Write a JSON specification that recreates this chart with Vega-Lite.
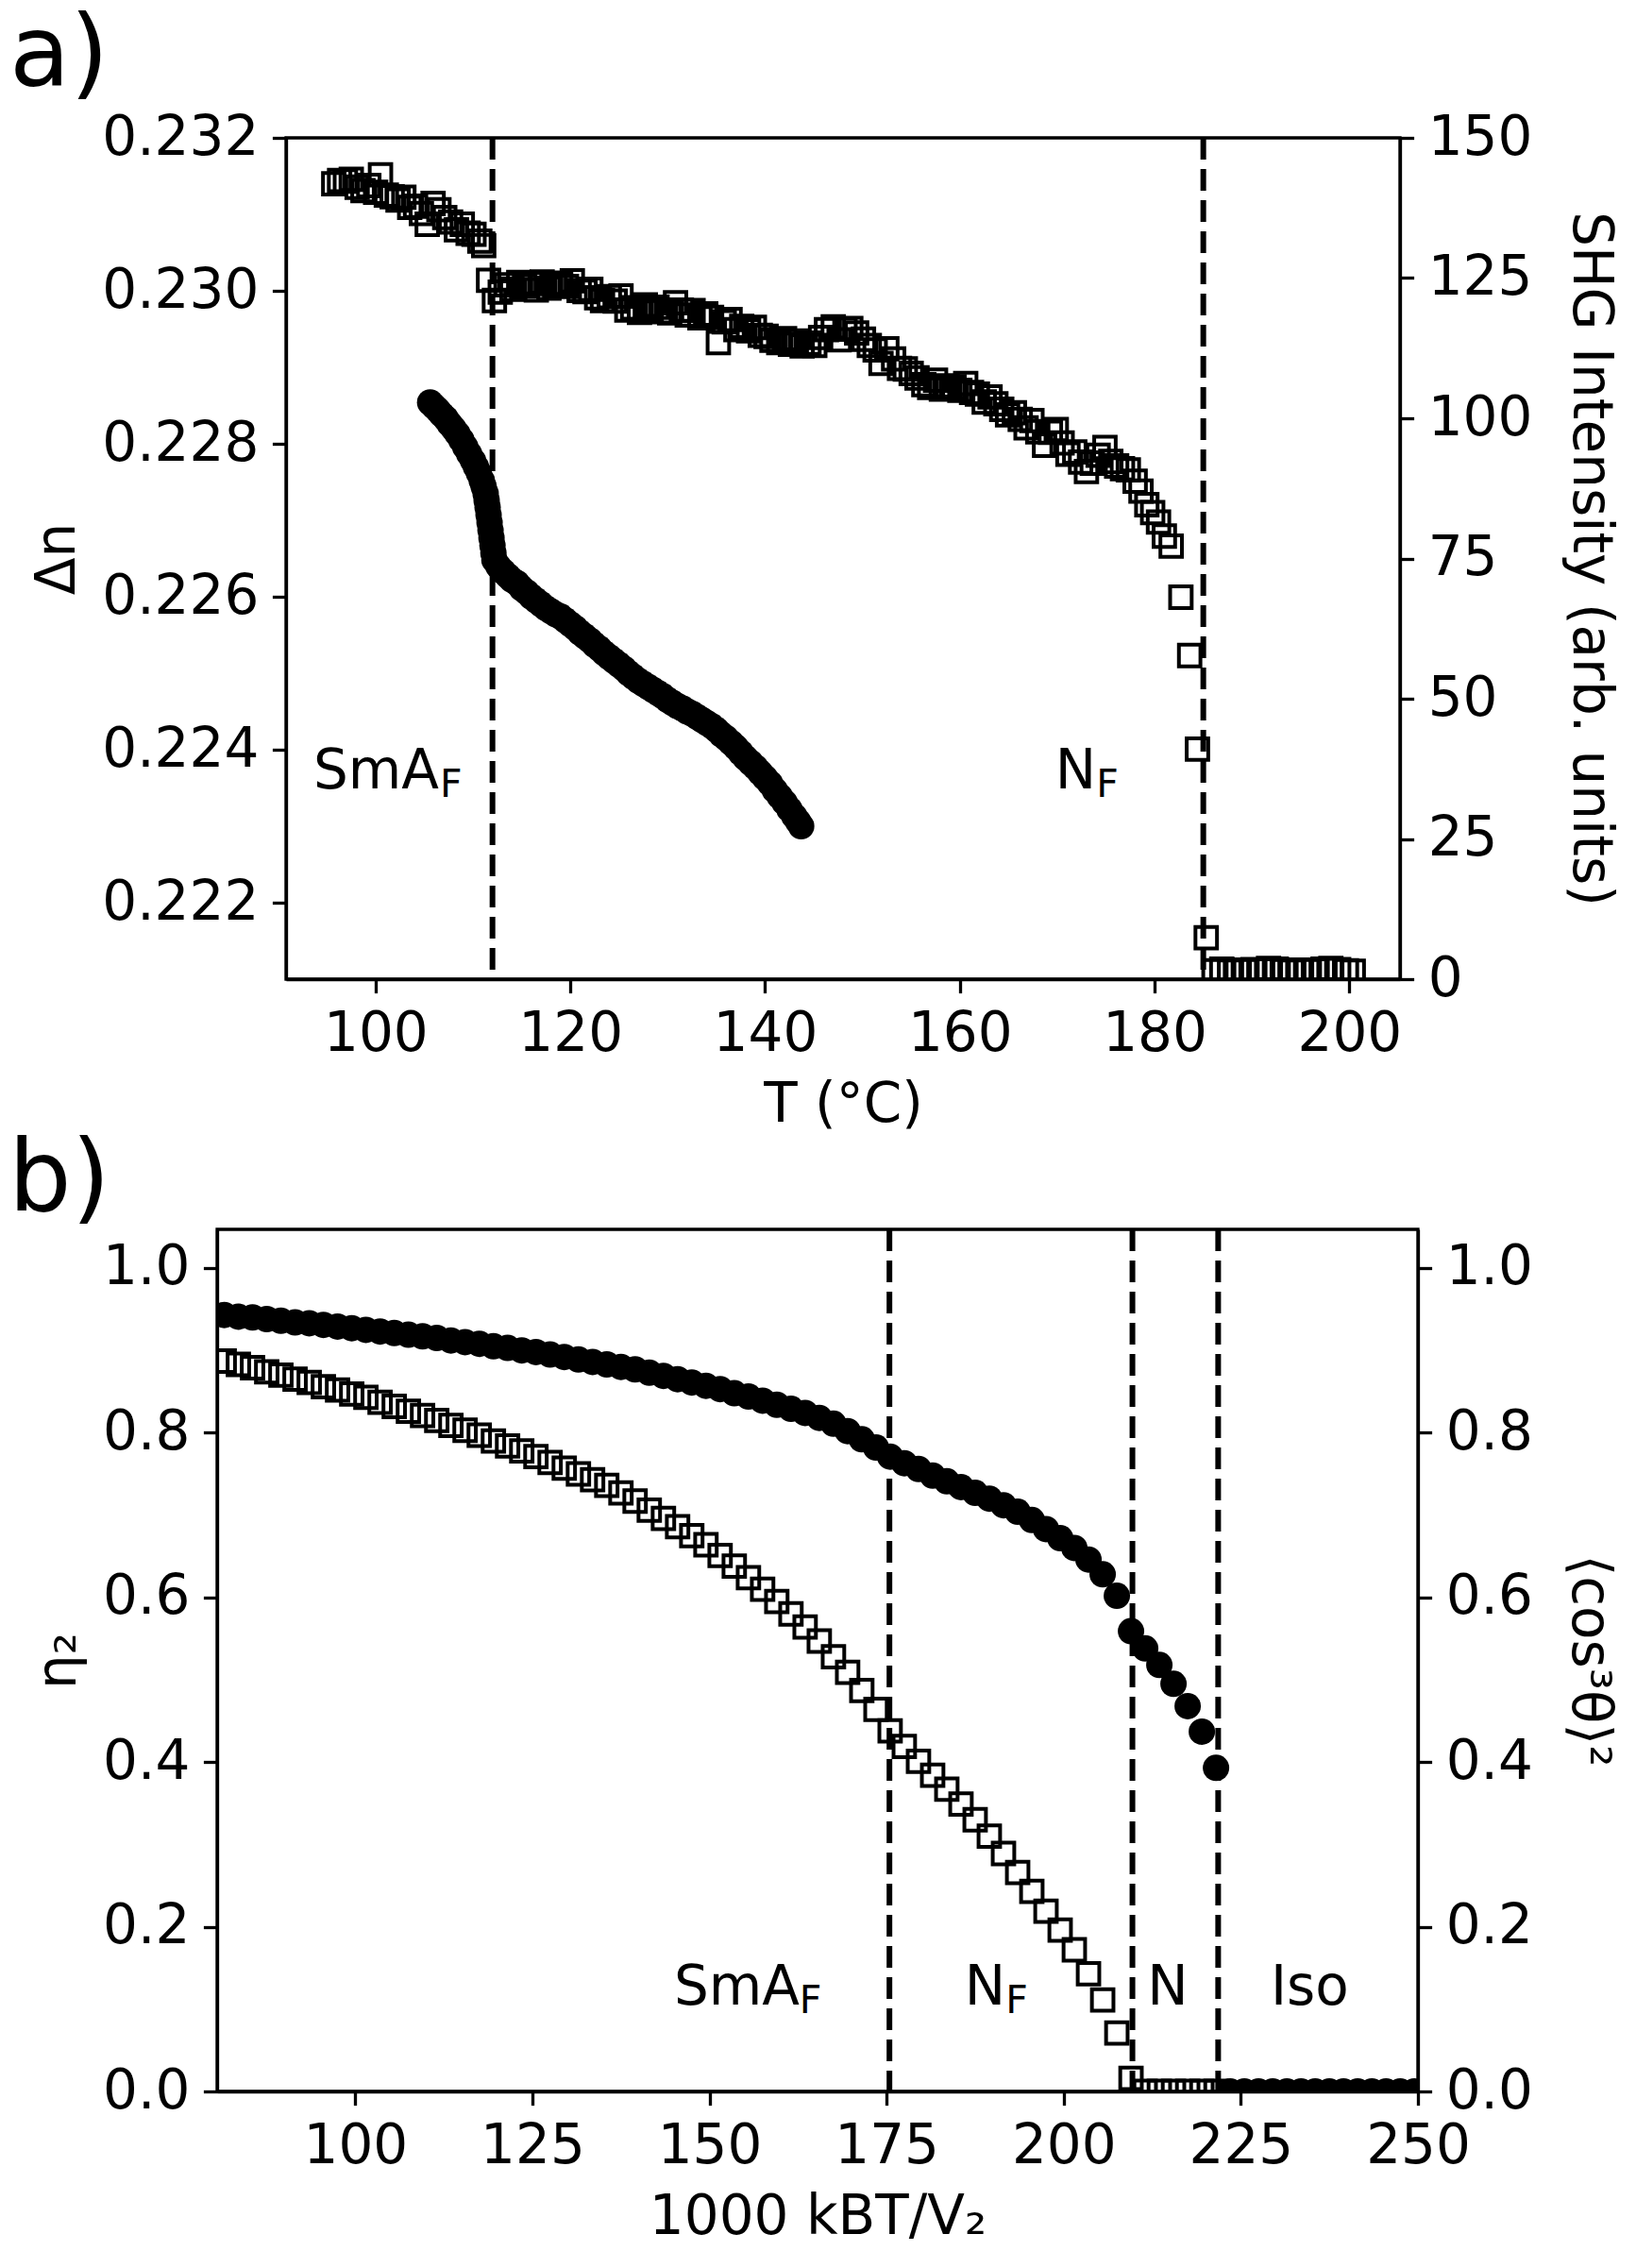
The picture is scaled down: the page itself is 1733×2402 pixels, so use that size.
{
  "$schema": "https://vega.github.io/schema/vega-lite/v6.json",
  "background": "white",
  "padding": {"left": 7, "top": 5, "right": 0, "bottom": 0},
  "spacing": -5,
  "datasets": {
    "shg": [
      {"T": 95.7, "I": 141.8}, {"T": 96.3, "I": 142.4}, {"T": 96.9, "I": 142.3}, {"T": 97.5, "I": 142.6},
      {"T": 98.1, "I": 141.2}, {"T": 98.7, "I": 140.6}, {"T": 99.3, "I": 141.5}, {"T": 100.0, "I": 140.3},
      {"T": 100.5, "I": 143.4}, {"T": 101.1, "I": 139.8}, {"T": 101.7, "I": 139.5}, {"T": 102.3, "I": 138.9},
      {"T": 102.9, "I": 139.4}, {"T": 103.5, "I": 137.6}, {"T": 104.1, "I": 137.8}, {"T": 104.7, "I": 136.5},
      {"T": 105.3, "I": 134.6}, {"T": 105.9, "I": 138.3}, {"T": 106.5, "I": 137.2}, {"T": 107.1, "I": 135.8},
      {"T": 107.7, "I": 135.0}, {"T": 108.3, "I": 133.6}, {"T": 108.9, "I": 134.6}, {"T": 109.5, "I": 133.0},
      {"T": 110.1, "I": 132.8}, {"T": 110.7, "I": 131.6}, {"T": 111.1, "I": 130.8},
      {"T": 111.6, "I": 124.6}, {"T": 112.2, "I": 121.0}, {"T": 112.8, "I": 122.5}, {"T": 113.4, "I": 123.8},
      {"T": 114.0, "I": 123.0}, {"T": 114.7, "I": 124.2}, {"T": 115.3, "I": 123.6}, {"T": 115.9, "I": 124.0},
      {"T": 116.5, "I": 122.9}, {"T": 117.1, "I": 124.3}, {"T": 117.8, "I": 123.2}, {"T": 118.4, "I": 123.7},
      {"T": 119.0, "I": 124.1}, {"T": 119.6, "I": 123.5}, {"T": 120.2, "I": 124.5}, {"T": 120.9, "I": 122.8},
      {"T": 121.5, "I": 122.6}, {"T": 122.1, "I": 123.0}, {"T": 122.7, "I": 121.5}, {"T": 123.3, "I": 121.0},
      {"T": 124.0, "I": 121.7}, {"T": 124.6, "I": 120.9}, {"T": 125.2, "I": 121.8}, {"T": 125.8, "I": 119.3},
      {"T": 126.4, "I": 119.7}, {"T": 127.1, "I": 118.9}, {"T": 127.7, "I": 120.2}, {"T": 128.3, "I": 119.4},
      {"T": 128.9, "I": 119.8}, {"T": 129.5, "I": 119.0}, {"T": 130.2, "I": 118.8}, {"T": 130.8, "I": 120.6},
      {"T": 131.4, "I": 119.3}, {"T": 132.0, "I": 118.4}, {"T": 132.6, "I": 119.2}, {"T": 133.3, "I": 117.9},
      {"T": 133.9, "I": 118.6}, {"T": 134.5, "I": 118.0}, {"T": 135.2, "I": 113.5}, {"T": 135.8, "I": 117.2},
      {"T": 136.4, "I": 117.6}, {"T": 137.0, "I": 115.8}, {"T": 137.6, "I": 116.4}, {"T": 138.3, "I": 115.6},
      {"T": 138.9, "I": 116.2}, {"T": 139.5, "I": 114.8}, {"T": 140.1, "I": 114.6}, {"T": 140.7, "I": 113.9},
      {"T": 141.4, "I": 113.5}, {"T": 142.0, "I": 114.2}, {"T": 142.6, "I": 113.2}, {"T": 143.2, "I": 113.8},
      {"T": 143.8, "I": 112.9}, {"T": 144.5, "I": 113.4}, {"T": 145.1, "I": 113.0}, {"T": 145.7, "I": 114.4},
      {"T": 146.3, "I": 115.8}, {"T": 147.0, "I": 116.3}, {"T": 147.6, "I": 114.0}, {"T": 148.2, "I": 115.9},
      {"T": 148.8, "I": 116.0}, {"T": 149.4, "I": 115.2}, {"T": 150.1, "I": 114.1}, {"T": 150.7, "I": 113.0},
      {"T": 151.3, "I": 112.2}, {"T": 151.9, "I": 109.8}, {"T": 152.5, "I": 112.4}, {"T": 153.2, "I": 110.6},
      {"T": 153.8, "I": 108.9}, {"T": 154.4, "I": 108.8}, {"T": 155.0, "I": 108.0}, {"T": 155.6, "I": 107.2},
      {"T": 156.3, "I": 106.0}, {"T": 156.9, "I": 105.5}, {"T": 157.5, "I": 106.8}, {"T": 158.1, "I": 105.2},
      {"T": 158.7, "I": 105.8}, {"T": 159.4, "I": 105.6}, {"T": 160.0, "I": 105.0}, {"T": 160.6, "I": 106.2},
      {"T": 161.2, "I": 104.6}, {"T": 161.8, "I": 104.3}, {"T": 162.5, "I": 102.9}, {"T": 163.1, "I": 103.8},
      {"T": 163.7, "I": 102.6}, {"T": 164.3, "I": 101.6}, {"T": 164.9, "I": 100.6}, {"T": 165.6, "I": 101.0},
      {"T": 166.2, "I": 99.8}, {"T": 166.8, "I": 98.3}, {"T": 167.4, "I": 99.6}, {"T": 168.0, "I": 97.6},
      {"T": 168.7, "I": 95.2}, {"T": 169.3, "I": 97.5}, {"T": 169.9, "I": 98.0}, {"T": 170.5, "I": 95.6},
      {"T": 171.1, "I": 93.6}, {"T": 171.8, "I": 94.0}, {"T": 172.4, "I": 92.2}, {"T": 173.0, "I": 90.5},
      {"T": 173.6, "I": 92.0}, {"T": 174.2, "I": 93.4}, {"T": 174.9, "I": 94.8}, {"T": 175.5, "I": 92.3},
      {"T": 176.1, "I": 91.5}, {"T": 176.7, "I": 91.0}, {"T": 177.3, "I": 90.8}, {"T": 178.0, "I": 88.8},
      {"T": 178.6, "I": 87.0}, {"T": 179.2, "I": 84.6}, {"T": 179.8, "I": 83.2}, {"T": 180.4, "I": 81.5},
      {"T": 181.0, "I": 79.0}, {"T": 181.7, "I": 77.2}, {"T": 182.7, "I": 68.1}, {"T": 183.6, "I": 57.7},
      {"T": 184.4, "I": 41.0}, {"T": 185.3, "I": 7.4}, {"T": 186.1, "I": 1.5}, {"T": 186.9, "I": 1.8},
      {"T": 187.7, "I": 1.4}, {"T": 188.5, "I": 1.6}, {"T": 189.3, "I": 1.5}, {"T": 190.1, "I": 1.7},
      {"T": 190.9, "I": 1.6}, {"T": 191.7, "I": 1.9}, {"T": 192.5, "I": 1.8}, {"T": 193.3, "I": 1.5},
      {"T": 194.1, "I": 1.4}, {"T": 194.9, "I": 1.6}, {"T": 195.7, "I": 1.5}, {"T": 196.5, "I": 1.6},
      {"T": 197.3, "I": 1.8}, {"T": 198.1, "I": 1.9}, {"T": 198.9, "I": 1.7}, {"T": 199.7, "I": 1.5},
      {"T": 200.4, "I": 1.4}
    ],
    "dn": [
      {"T": 105.6, "dn": 0.22854}, {"T": 106.0, "dn": 0.22849}, {"T": 106.4, "dn": 0.22844}, {"T": 106.8, "dn": 0.22838},
      {"T": 107.2, "dn": 0.22833}, {"T": 107.6, "dn": 0.22826}, {"T": 108.0, "dn": 0.2282}, {"T": 108.4, "dn": 0.22813},
      {"T": 108.8, "dn": 0.22805}, {"T": 109.2, "dn": 0.22796}, {"T": 109.6, "dn": 0.22787}, {"T": 110.0, "dn": 0.22778},
      {"T": 110.3, "dn": 0.2277}, {"T": 110.6, "dn": 0.22762}, {"T": 110.9, "dn": 0.22752}, {"T": 111.1, "dn": 0.22744},
      {"T": 111.3, "dn": 0.22735}, {"T": 111.4, "dn": 0.22726}, {"T": 111.5, "dn": 0.22717}, {"T": 111.6, "dn": 0.22707},
      {"T": 111.7, "dn": 0.22697}, {"T": 111.8, "dn": 0.22687}, {"T": 111.9, "dn": 0.22677}, {"T": 112.0, "dn": 0.22667},
      {"T": 112.1, "dn": 0.22657}, {"T": 112.2, "dn": 0.22648}, {"T": 112.6, "dn": 0.2264}, {"T": 113.1, "dn": 0.22633},
      {"T": 113.6, "dn": 0.22627}, {"T": 114.0, "dn": 0.22622}, {"T": 114.5, "dn": 0.22618}, {"T": 115.0, "dn": 0.22611},
      {"T": 115.5, "dn": 0.22606}, {"T": 116.0, "dn": 0.226}, {"T": 116.5, "dn": 0.22595}, {"T": 117.0, "dn": 0.2259},
      {"T": 117.5, "dn": 0.22585}, {"T": 118.0, "dn": 0.22581}, {"T": 118.5, "dn": 0.22577}, {"T": 119.0, "dn": 0.22574},
      {"T": 119.5, "dn": 0.22569}, {"T": 120.0, "dn": 0.22564}, {"T": 120.5, "dn": 0.22559}, {"T": 121.0, "dn": 0.22553},
      {"T": 121.5, "dn": 0.22548}, {"T": 122.0, "dn": 0.22543}, {"T": 122.5, "dn": 0.22537}, {"T": 123.0, "dn": 0.22532},
      {"T": 123.5, "dn": 0.22526}, {"T": 124.0, "dn": 0.22521}, {"T": 124.5, "dn": 0.22516}, {"T": 125.0, "dn": 0.22511},
      {"T": 125.5, "dn": 0.22506}, {"T": 126.0, "dn": 0.225}, {"T": 126.5, "dn": 0.22495}, {"T": 127.0, "dn": 0.2249},
      {"T": 127.5, "dn": 0.22486}, {"T": 128.0, "dn": 0.22482}, {"T": 128.5, "dn": 0.22478}, {"T": 129.0, "dn": 0.22474},
      {"T": 129.5, "dn": 0.2247}, {"T": 130.0, "dn": 0.22465}, {"T": 130.5, "dn": 0.22461}, {"T": 131.0, "dn": 0.22457},
      {"T": 131.5, "dn": 0.22454}, {"T": 132.0, "dn": 0.2245}, {"T": 132.5, "dn": 0.22447}, {"T": 133.0, "dn": 0.22443},
      {"T": 133.5, "dn": 0.22439}, {"T": 134.0, "dn": 0.22435}, {"T": 134.5, "dn": 0.22431}, {"T": 135.0, "dn": 0.22426},
      {"T": 135.5, "dn": 0.2242}, {"T": 136.0, "dn": 0.22415}, {"T": 136.5, "dn": 0.22409}, {"T": 137.0, "dn": 0.22403},
      {"T": 137.5, "dn": 0.22396}, {"T": 138.0, "dn": 0.22389}, {"T": 138.5, "dn": 0.22383}, {"T": 139.0, "dn": 0.22377},
      {"T": 139.5, "dn": 0.2237}, {"T": 140.0, "dn": 0.22363}, {"T": 140.5, "dn": 0.22356}, {"T": 141.0, "dn": 0.22347},
      {"T": 141.5, "dn": 0.22339}, {"T": 142.0, "dn": 0.22331}, {"T": 142.5, "dn": 0.22322}, {"T": 143.0, "dn": 0.22313},
      {"T": 143.4, "dn": 0.22306}, {"T": 143.7, "dn": 0.223}
    ],
    "eta": [
      {"x": 81.5, "v": 0.887}, {"x": 83.5, "v": 0.883}, {"x": 85.5, "v": 0.879}, {"x": 87.5, "v": 0.874},
      {"x": 89.5, "v": 0.87}, {"x": 91.5, "v": 0.865}, {"x": 93.5, "v": 0.861}, {"x": 95.5, "v": 0.856},
      {"x": 97.5, "v": 0.852}, {"x": 99.5, "v": 0.847}, {"x": 101.5, "v": 0.843}, {"x": 103.5, "v": 0.837},
      {"x": 105.5, "v": 0.832}, {"x": 107.5, "v": 0.826}, {"x": 109.5, "v": 0.821}, {"x": 111.5, "v": 0.815},
      {"x": 113.5, "v": 0.809}, {"x": 115.5, "v": 0.803}, {"x": 117.5, "v": 0.797}, {"x": 119.5, "v": 0.79},
      {"x": 121.5, "v": 0.784}, {"x": 123.5, "v": 0.778}, {"x": 125.5, "v": 0.771}, {"x": 127.5, "v": 0.764},
      {"x": 129.5, "v": 0.757}, {"x": 131.5, "v": 0.75}, {"x": 133.5, "v": 0.743}, {"x": 135.5, "v": 0.736},
      {"x": 137.5, "v": 0.727}, {"x": 139.5, "v": 0.717}, {"x": 141.5, "v": 0.706}, {"x": 143.5, "v": 0.696},
      {"x": 145.5, "v": 0.686}, {"x": 147.5, "v": 0.675}, {"x": 149.5, "v": 0.664}, {"x": 151.5, "v": 0.651},
      {"x": 153.5, "v": 0.638}, {"x": 155.5, "v": 0.624}, {"x": 157.5, "v": 0.61}, {"x": 159.5, "v": 0.595},
      {"x": 161.5, "v": 0.58}, {"x": 163.5, "v": 0.564}, {"x": 165.5, "v": 0.547}, {"x": 167.5, "v": 0.528},
      {"x": 169.5, "v": 0.509}, {"x": 171.5, "v": 0.487}, {"x": 173.5, "v": 0.464}, {"x": 175.5, "v": 0.438},
      {"x": 177.5, "v": 0.419}, {"x": 179.5, "v": 0.401}, {"x": 181.5, "v": 0.384}, {"x": 183.5, "v": 0.367},
      {"x": 185.5, "v": 0.349}, {"x": 187.5, "v": 0.33}, {"x": 189.5, "v": 0.31}, {"x": 191.5, "v": 0.289},
      {"x": 193.5, "v": 0.266}, {"x": 195.5, "v": 0.243}, {"x": 197.5, "v": 0.219}, {"x": 199.5, "v": 0.196},
      {"x": 201.5, "v": 0.172}, {"x": 203.5, "v": 0.143}, {"x": 205.5, "v": 0.111}, {"x": 207.5, "v": 0.071},
      {"x": 209.5, "v": 0.016}, {"x": 211.5, "v": 0}, {"x": 213.5, "v": 0}, {"x": 215.5, "v": 0},
      {"x": 217.5, "v": 0}, {"x": 219.5, "v": 0}, {"x": 221.5, "v": 0}
    ],
    "cos": [
      {"x": 81.5, "v": 0.943}, {"x": 83.5, "v": 0.941}, {"x": 85.5, "v": 0.94}, {"x": 87.5, "v": 0.938},
      {"x": 89.5, "v": 0.936}, {"x": 91.5, "v": 0.934}, {"x": 93.5, "v": 0.933}, {"x": 95.5, "v": 0.931},
      {"x": 97.5, "v": 0.929}, {"x": 99.5, "v": 0.927}, {"x": 101.5, "v": 0.925}, {"x": 103.5, "v": 0.923},
      {"x": 105.5, "v": 0.921}, {"x": 107.5, "v": 0.919}, {"x": 109.5, "v": 0.917}, {"x": 111.5, "v": 0.915},
      {"x": 113.5, "v": 0.912}, {"x": 115.5, "v": 0.91}, {"x": 117.5, "v": 0.908}, {"x": 119.5, "v": 0.905},
      {"x": 121.5, "v": 0.903}, {"x": 123.5, "v": 0.9}, {"x": 125.5, "v": 0.898}, {"x": 127.5, "v": 0.895},
      {"x": 129.5, "v": 0.892}, {"x": 131.5, "v": 0.889}, {"x": 133.5, "v": 0.886}, {"x": 135.5, "v": 0.883},
      {"x": 137.5, "v": 0.88}, {"x": 139.5, "v": 0.877}, {"x": 141.5, "v": 0.873}, {"x": 143.5, "v": 0.869},
      {"x": 145.5, "v": 0.865}, {"x": 147.5, "v": 0.861}, {"x": 149.5, "v": 0.857}, {"x": 151.5, "v": 0.853},
      {"x": 153.5, "v": 0.848}, {"x": 155.5, "v": 0.844}, {"x": 157.5, "v": 0.839}, {"x": 159.5, "v": 0.834},
      {"x": 161.5, "v": 0.829}, {"x": 163.5, "v": 0.824}, {"x": 165.5, "v": 0.818}, {"x": 167.5, "v": 0.811},
      {"x": 169.5, "v": 0.802}, {"x": 171.5, "v": 0.792}, {"x": 173.5, "v": 0.782}, {"x": 175.5, "v": 0.771},
      {"x": 177.5, "v": 0.763}, {"x": 179.5, "v": 0.756}, {"x": 181.5, "v": 0.748}, {"x": 183.5, "v": 0.741},
      {"x": 185.5, "v": 0.734}, {"x": 187.5, "v": 0.727}, {"x": 189.5, "v": 0.72}, {"x": 191.5, "v": 0.712},
      {"x": 193.5, "v": 0.704}, {"x": 195.5, "v": 0.694}, {"x": 197.5, "v": 0.683}, {"x": 199.5, "v": 0.672},
      {"x": 201.5, "v": 0.66}, {"x": 203.5, "v": 0.646}, {"x": 205.5, "v": 0.628}, {"x": 207.5, "v": 0.602},
      {"x": 209.5, "v": 0.559}, {"x": 211.5, "v": 0.538}, {"x": 213.5, "v": 0.518}, {"x": 215.5, "v": 0.495},
      {"x": 217.5, "v": 0.468}, {"x": 219.5, "v": 0.437}, {"x": 221.5, "v": 0.393}, {"x": 223.5, "v": 0},
      {"x": 225.5, "v": 0}, {"x": 227.5, "v": 0}, {"x": 229.5, "v": 0}, {"x": 231.5, "v": 0},
      {"x": 233.5, "v": 0}, {"x": 235.5, "v": 0}, {"x": 237.5, "v": 0}, {"x": 239.5, "v": 0},
      {"x": 241.5, "v": 0}, {"x": 243.5, "v": 0}, {"x": 245.5, "v": 0}, {"x": 247.5, "v": 0},
      {"x": 249.5, "v": 0}
    ],
    "linesA": [{"T": 112}, {"T": 185}],
    "linesB": [{"x": 175.4}, {"x": 209.7}, {"x": 221.8}],
    "labelsA": [{"T": 93.6, "y": 0.2235, "t": "SmA"}, {"T": 169.8, "y": 0.2235, "t": "N"}],
    "subsA": [{"T": 106.6, "y": 0.2235, "t": "F"}, {"T": 174.0, "y": 0.2235, "t": "F"}],
    "labelsB": [
      {"x": 145.0, "y": 0.105, "t": "SmA"}, {"x": 186.0, "y": 0.105, "t": "N"},
      {"x": 211.8, "y": 0.105, "t": "N"}, {"x": 229.2, "y": 0.105, "t": "Iso"}
    ],
    "subsB": [{"x": 162.7, "y": 0.105, "t": "F"}, {"x": 191.8, "y": 0.105, "t": "F"}]
  },
  "vconcat": [
    {
      "bounds": "flush",
      "spacing": 72,
      "hconcat": [
        {
          "width": 1,
          "height": 1,
          "view": {"stroke": null},
          "data": {"values": []},
          "mark": "point",
          "encoding": {}
        },
        {
          "width": 1180,
          "height": 891,
          "title": {"text": "a)", "anchor": "start", "frame": "group", "fontSize": 105, "fontWeight": "normal", "baseline": "alphabetic", "dx": -293, "offset": -79},
          "layer": [
            {
              "data": {"name": "dn"},
              "mark": {"type": "point", "shape": "circle", "filled": true, "size": 784, "color": "black", "opacity": 1, "clip": true},
              "encoding": {
                "x": {"field": "T", "type": "quantitative", "scale": {"domain": [90.8, 205.2], "nice": false, "zero": false},
                  "axis": {"title": "T (°C)", "values": [100, 120, 140, 160, 180, 200], "format": "d"}},
                "y": {"field": "dn", "type": "quantitative", "scale": {"domain": [0.221, 0.232], "nice": false, "zero": false},
                  "axis": {"title": "Δn", "orient": "left", "values": [0.222, 0.224, 0.226, 0.228, 0.23, 0.232], "format": ".3f"}}
              }
            },
            {
              "data": {"name": "linesA"},
              "mark": {"type": "rule", "color": "black", "strokeWidth": 6, "strokeDash": [23, 10]},
              "encoding": {
                "x": {"field": "T", "type": "quantitative", "scale": {"domain": [90.8, 205.2], "nice": false, "zero": false}}
              }
            },
            {
              "data": {"name": "shg"},
              "mark": {"type": "point", "shape": "square", "filled": false, "size": 520, "color": "black", "strokeWidth": 4, "opacity": 1, "clip": true},
              "encoding": {
                "x": {"field": "T", "type": "quantitative", "scale": {"domain": [90.8, 205.2], "nice": false, "zero": false}},
                "y": {"field": "I", "type": "quantitative", "scale": {"domain": [0, 150], "nice": false},
                  "axis": {"title": "SHG Intensity (arb. units)", "orient": "right", "titlePadding": 32, "values": [0, 25, 50, 75, 100, 125, 150], "format": "d"}}
              }
            },
            {
              "data": {"name": "labelsA"},
              "mark": {"type": "text", "fontSize": 58, "align": "left", "baseline": "alphabetic", "color": "black"},
              "encoding": {
                "x": {"field": "T", "type": "quantitative", "scale": {"domain": [90.8, 205.2], "nice": false, "zero": false}},
                "y": {"field": "y", "type": "quantitative", "scale": {"domain": [0.221, 0.232], "nice": false, "zero": false}, "axis": null},
                "text": {"field": "t"}
              }
            },
            {
              "data": {"name": "subsA"},
              "mark": {"type": "text", "fontSize": 41, "align": "left", "baseline": "alphabetic", "dy": 9, "color": "black"},
              "encoding": {
                "x": {"field": "T", "type": "quantitative", "scale": {"domain": [90.8, 205.2], "nice": false, "zero": false}},
                "y": {"field": "y", "type": "quantitative", "scale": {"domain": [0.221, 0.232], "nice": false, "zero": false}, "axis": null},
                "text": {"field": "t"}
              }
            }
          ],
          "resolve": {"scale": {"y": "independent"}, "axis": {"y": "independent"}}
        }
      ]
    },
    {
      "width": 1272,
      "height": 913,
      "title": {"text": "b)", "anchor": "start", "frame": "group", "fontSize": 105, "fontWeight": "normal", "baseline": "alphabetic", "dx": -221, "offset": -88},
      "layer": [
        {
          "data": {"name": "eta"},
          "mark": {"type": "point", "shape": "square", "filled": false, "size": 520, "color": "black", "strokeWidth": 4, "opacity": 1, "clip": true},
          "encoding": {
            "x": {"field": "x", "type": "quantitative", "scale": {"domain": [80.5, 250], "nice": false, "zero": false},
              "axis": {"title": "1000 kBT/V₂", "values": [100, 125, 150, 175, 200, 225, 250], "format": "d"}},
            "y": {"field": "v", "type": "quantitative", "scale": {"domain": [0, 1.047], "nice": false},
              "axis": {"title": "η₂", "orient": "left", "values": [0, 0.2, 0.4, 0.6, 0.8, 1.0], "format": ".1f"}}
          }
        },
        {
          "data": {"name": "linesB"},
          "mark": {"type": "rule", "color": "black", "strokeWidth": 6, "strokeDash": [23, 10]},
          "encoding": {
            "x": {"field": "x", "type": "quantitative", "scale": {"domain": [80.5, 250], "nice": false, "zero": false}}
          }
        },
        {
          "data": {"name": "cos"},
          "mark": {"type": "point", "shape": "circle", "filled": true, "size": 784, "color": "black", "opacity": 1, "clip": true},
          "encoding": {
            "x": {"field": "x", "type": "quantitative", "scale": {"domain": [80.5, 250], "nice": false, "zero": false}},
            "y": {"field": "v", "type": "quantitative", "scale": {"domain": [0, 1.047], "nice": false},
              "axis": {"title": "⟨cos³θ⟩²", "orient": "right", "titlePadding": 30, "values": [0, 0.2, 0.4, 0.6, 0.8, 1.0], "format": ".1f"}}
          }
        },
        {
          "data": {"name": "labelsB"},
          "mark": {"type": "text", "fontSize": 58, "align": "left", "baseline": "alphabetic", "color": "black"},
          "encoding": {
            "x": {"field": "x", "type": "quantitative", "scale": {"domain": [80.5, 250], "nice": false, "zero": false}},
            "y": {"field": "y", "type": "quantitative", "scale": {"domain": [0, 1.047], "nice": false}, "axis": null},
            "text": {"field": "t"}
          }
        },
        {
          "data": {"name": "subsB"},
          "mark": {"type": "text", "fontSize": 41, "align": "left", "baseline": "alphabetic", "dy": 9, "color": "black"},
          "encoding": {
            "x": {"field": "x", "type": "quantitative", "scale": {"domain": [80.5, 250], "nice": false, "zero": false}},
            "y": {"field": "y", "type": "quantitative", "scale": {"domain": [0, 1.047], "nice": false}, "axis": null},
            "text": {"field": "t"}
          }
        }
      ],
      "resolve": {"scale": {"y": "independent"}, "axis": {"y": "independent"}}
    }
  ],
  "config": {
    "font": "DejaVu Sans",
    "view": {"stroke": "black", "strokeWidth": 3.3},
    "axis": {
      "grid": false,
      "domainColor": "black",
      "domainWidth": 3.3,
      "tickColor": "black",
      "tickWidth": 3.3,
      "tickSize": 14.6,
      "labelPadding": 14.6,
      "labelFontSize": 58,
      "labelColor": "black",
      "labelFlush": false,
      "labelOverlap": false,
      "labelBound": false,
      "titleFontSize": 58,
      "titleFontWeight": "normal",
      "titleColor": "black",
      "titlePadding": 17
    },
    "title": {"color": "black", "font": "DejaVu Sans"}
  }
}
